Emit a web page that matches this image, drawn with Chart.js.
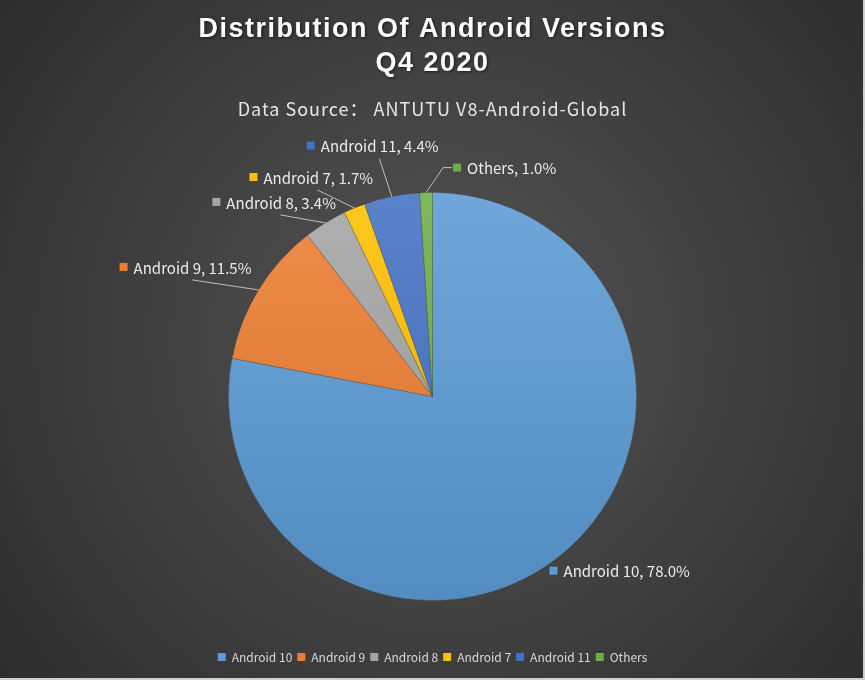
<!DOCTYPE html>
<html>
<head>
<meta charset="utf-8">
<title>Distribution Of Android Versions Q4 2020</title>
<script src="https://cdn.jsdelivr.net/npm/chart.js@4/dist/chart.umd.min.js"></script>
<style>
  html, body { margin: 0; padding: 0; background: #333; }
  #wrap { position: relative; width: 865px; height: 680px; }
</style>
</head>
<body>
<div id="wrap"><canvas id="pieChart"></canvas></div>
<script>
// データ
const versions = ['Android 10', 'Android 9', 'Android 8', 'Android 7', 'Android 11', 'Others'];
const shares = [78.0, 11.5, 3.4, 1.7, 4.4, 1.0];
const sliceColors = ['#5B9BD5', '#ED7D31', '#A5A5A5', '#FFC000', '#4472C4', '#70AD47'];

const titleLines = ['Distribution Of Android Versions', 'Q4 2020'];
const subtitleText = 'Data Source： ANTUTU V8-Android-Global';

// ラベル配置（扇形の外周点からのずれ）
const labelOffsets = [[-13, 17], [-139, -23], [-113, -21], [-105, -31], [-85, -51], [27, -25]];
const leaderStyles = ['none', 'up', 'up', 'up', 'up', 'elbow'];

const PIE_RADIUS = 204;
const LABEL_FONT = '15px "Noto Sans CJK SC", "Liberation Sans", sans-serif';

function shade(hex, amt) {
  const n = parseInt(hex.slice(1), 16);
  let r = (n >> 16) & 255, g = (n >> 8) & 255, b = n & 255;
  const f = c => Math.round(amt >= 0 ? c + (255 - c) * amt : c * (1 + amt));
  return `rgb(${f(r)}, ${f(g)}, ${f(b)})`;
}

// 背景
const backgroundPlugin = {
  id: 'background',
  beforeDraw(chart) {
    const { ctx, width, height } = chart;
    ctx.save();
    const g = ctx.createRadialGradient(440, 340, 20, 440, 340, 600);
    g.addColorStop(0, '#535353');
    g.addColorStop(1, '#2a2a2a');
    ctx.fillStyle = g;
    ctx.fillRect(0, 0, width, height);
    ctx.fillStyle = '#cfcfcf';
    ctx.fillRect(width - 2, 0, 2, height);
    ctx.fillRect(0, height - 2, width, 2);
    ctx.restore();
  }
};

// タイトル
const titlePlugin = {
  id: 'titles',
  afterDraw(chart) {
    const { ctx, width } = chart;
    ctx.save();
    ctx.textAlign = 'center';
    ctx.textBaseline = 'alphabetic';
    ctx.fillStyle = '#ffffff';
    ctx.shadowColor = 'rgba(0,0,0,0.6)';
    ctx.shadowBlur = 3;
    ctx.shadowOffsetX = 1;
    ctx.shadowOffsetY = 1;
    ctx.font = 'bold 27px "Liberation Sans", Arial, sans-serif';
    ctx.letterSpacing = '1.5px';
    ctx.fillText(titleLines[0], width / 2, 37);
    ctx.fillText(titleLines[1], width / 2, 71);
    ctx.shadowColor = 'transparent';
    ctx.font = '18px "Noto Sans CJK SC", sans-serif';
    ctx.letterSpacing = '1px';
    ctx.fillStyle = '#e6e6e6';
    ctx.fillText(subtitleText, width / 2, 116);
    ctx.restore();
  }
};

// データラベル
const labelPlugin = {
  id: 'sliceLabels',
  afterDatasetsDraw(chart) {
    const { ctx } = chart;
    const meta = chart.getDatasetMeta(0);
    ctx.save();
    ctx.font = LABEL_FONT;
    ctx.textBaseline = 'middle';
    meta.data.forEach((arc, i) => {
      const mid = (arc.startAngle + arc.endAngle) / 2;
      const ex = arc.x + Math.cos(mid) * arc.outerRadius;
      const ey = arc.y + Math.sin(mid) * arc.outerRadius;
      const left = ex + labelOffsets[i][0];
      const y = ey + labelOffsets[i][1];
      const text = `${versions[i]}, ${shares[i].toFixed(1)}%`;
      const w = 14 + ctx.measureText(text).width;

      ctx.strokeStyle = '#bdbdbd';
      ctx.lineWidth = 1;
      if (leaderStyles[i] === 'up') {
        ctx.beginPath();
        ctx.moveTo(ex, ey);
        ctx.lineTo(left + w * 0.55, y + 13);
        ctx.stroke();
      } else if (leaderStyles[i] === 'elbow') {
        ctx.beginPath();
        ctx.moveTo(ex, ey);
        ctx.lineTo(left - 10, y);
        ctx.lineTo(left - 1, y);
        ctx.stroke();
      }

      ctx.fillStyle = sliceColors[i];
      ctx.fillRect(left, y - 4, 8, 8);
      ctx.fillStyle = '#ececec';
      ctx.textAlign = 'left';
      ctx.fillText(text, left + 14, y + 1);
    });
    ctx.restore();
  }
};

function sliceFill(c) {
  const base = sliceColors[c.dataIndex];
  const area = c.chart.chartArea;
  if (!area) return base;
  const cy = (area.top + area.bottom) / 2;
  const g = c.chart.ctx.createLinearGradient(0, cy - PIE_RADIUS, 0, cy + PIE_RADIUS);
  g.addColorStop(0, shade(base, 0.12));
  g.addColorStop(1, shade(base, -0.1));
  return g;
}

new Chart(document.getElementById('pieChart'), {
  type: 'pie',
  data: {
    labels: versions,
    datasets: [{
      data: shares,
      backgroundColor: sliceFill,
      borderColor: 'rgba(70,70,70,0.5)',
      borderWidth: 0.6
    }]
  },
  options: {
    responsive: true,
    maintainAspectRatio: false,
    animation: false,
    events: [],
    radius: PIE_RADIUS,
    layout: {
      padding: { top: 147, bottom: 7, left: 0, right: 0 }
    },
    plugins: {
      tooltip: { enabled: false },
      title: { display: false },
      legend: {
        position: 'bottom',
        align: 'center',
        labels: {
          boxWidth: 8,
          boxHeight: 8,
          padding: 5,
          color: '#d9d9d9',
          font: { family: '"Noto Sans CJK SC", sans-serif', size: 12 },
          generateLabels: () => versions.map((v, i) => ({
            text: v,
            fillStyle: sliceColors[i],
            strokeStyle: sliceColors[i],
            lineWidth: 0,
            fontColor: '#d9d9d9',
            hidden: false,
            index: i
          }))
        }
      }
    }
  },
  plugins: [backgroundPlugin, labelPlugin, titlePlugin]
});
</script>
</body>
</html>
